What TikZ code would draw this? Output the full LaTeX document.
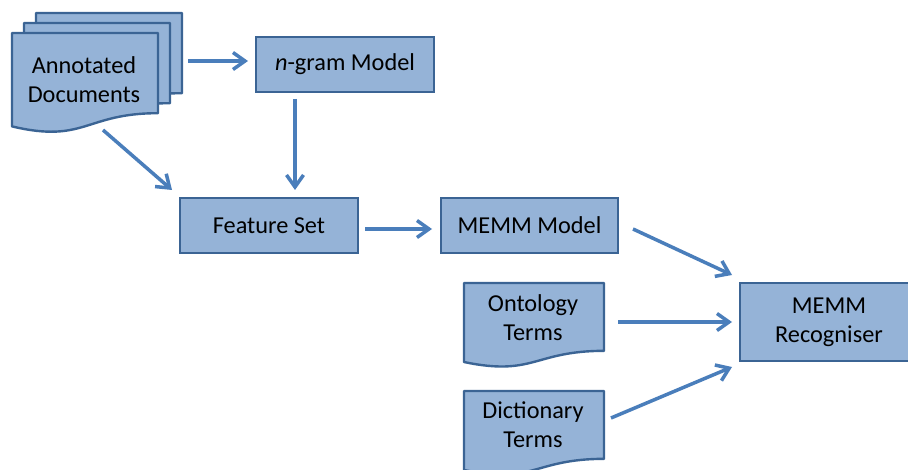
\documentclass[tikz,border=0pt]{standalone}
\usepackage{fontspec}
\setmainfont{Carlito}
\usetikzlibrary{arrows.meta}
\definecolor{boxfill}{HTML}{95B3D7}
\definecolor{boxline}{HTML}{3B6494}
\definecolor{arrowblue}{HTML}{4A7EBB}
\newcommand\docpath[4]{% x, top y, width, height
  \draw[docbox] (#1,#2) -- ({#1+#3},#2) -- ({#1+#3},{#2+0.802*#4})
    .. controls ({#1+0.5*#3},{#2+0.802*#4}) and ({#1+0.5*#3},{#2+1.107*#4}) .. (#1,{#2+0.934*#4}) -- cycle;}
\begin{document}
\begin{tikzpicture}[x=1pt,y=-1pt,
  docbox/.style={fill=boxfill,draw=boxline,line width=2.4pt,line join=round},
  procbox/.style={rectangle,fill=boxfill,draw=boxline,line width=2.4pt,inner sep=0pt,
    font=\fontsize{24.3}{29}\selectfont,align=center},
  txt/.style={inner sep=0pt,font=\fontsize{24.3}{29}\selectfont,align=center},
  arr/.style={draw=arrowblue,line width=3.5pt,-{Straight Barb[length=12pt,width=17pt]}}]
\clip (0,0) rectangle (908,470);
\fill[white] (0,0) rectangle (908,470);
% multi-document
\docpath{36}{13}{146}{100}
\docpath{24}{23}{146}{100}
\docpath{12}{33}{146}{100}
\node[txt] (ad) at (84,80) {Annotated\\Documents};
% boxes
\node[procbox,minimum width=178pt,minimum height=55pt] (ng) at (345,64.5) {\textit{n}-gram Model};
\node[procbox,minimum width=178pt,minimum height=55pt] (fs) at (269,225.5) {Feature Set};
\node[procbox,minimum width=177pt,minimum height=55pt] (mm) at (529.5,225.5) {MEMM Model};
\node[procbox,minimum width=178pt,minimum height=78pt] (rec) at (829,322) {MEMM\\Recogniser};
% term documents
\docpath{464}{283}{140}{84.6}
\node[txt] (ont) at (533,317.5) {Ontology\\Terms};
\docpath{464}{391}{140}{84.6}
\node[txt] (dict) at (533,425) {Dictionary\\Terms};
% connector end points
\coordinate (adR) at (188,61);   \coordinate (ngL) at (248,61);
\coordinate (adB) at (103,130);  \coordinate (fsT1) at (172,190);
\coordinate (ngB) at (295,99);   \coordinate (fsT2) at (295,190);
\coordinate (fsR) at (365,229);  \coordinate (mmL) at (432,229);
\coordinate (mmR) at (633,229);  \coordinate (recA) at (732,275);
\coordinate (ontR) at (618,322); \coordinate (recB) at (732,322);
\coordinate (dictR) at (611,418);\coordinate (recC) at (732,367);
\draw[arr] (adR) -- (ngL);
\draw[arr] (adB) -- (fsT1);
\draw[arr] (ngB) -- (fsT2);
\draw[arr] (fsR) -- (mmL);
\draw[arr] (mmR) -- (recA);
\draw[arr] (ontR) -- (recB);
\draw[arr] (dictR) -- (recC);
\end{tikzpicture}
\end{document}
